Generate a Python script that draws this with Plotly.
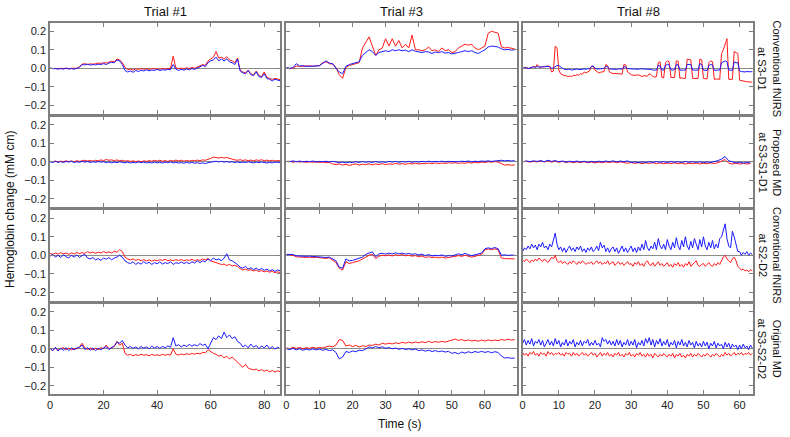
import numpy as np
import plotly.graph_objects as go
from plotly.subplots import make_subplots

# ---------------- data ----------------
columns = ["Trial #1", "Trial #3", "Trial #8"]
row_labels = ["Conventional fNIRS<br>at S3-D1", "Proposed MD<br>at S3-S1-D1",
              "Conventional fNIRS<br>at S2-D2", "Original MD<br>at S3-S2-D2"]

t_trial1 = np.arange(0, 87, 1.0)
t_trial3 = np.arange(0, 70, 1.0)
t_trial8 = np.arange(0, 64, 1.0)
t_trial8_fine = np.arange(0, 64, 0.5)

# Row 1: Conventional fNIRS at S3-D1
r1c1_red = [0.0,-0.002,0.0,-0.003,0.0,-0.002,0.001,-0.003,0.0,-0.002,0.0,
            0.008,0.022,0.025,0.02,0.024,0.022,0.025,0.028,0.026,0.03,0.028,0.032,0.038,0.035,0.05,0.045,0.03,
            0.005,-0.008,-0.005,-0.01,-0.004,-0.006,-0.002,-0.005,-0.003,-0.006,-0.002,-0.004,-0.003,-0.005,
            -0.001,-0.004,-0.002,0.0,0.065,0.002,-0.002,0.0,-0.003,0.002,-0.001,0.004,0.0,0.006,0.01,0.02,
            0.015,0.04,0.05,0.06,0.09,0.055,0.06,0.05,0.062,0.045,0.04,0.03,0.055,-0.01,-0.02,-0.025,-0.01,
            -0.03,-0.035,-0.015,-0.04,-0.045,-0.02,-0.05,-0.055,-0.06,-0.055,-0.06,-0.062]
r1c1_blue = [0.002,-0.003,-0.001,-0.004,-0.002,-0.005,0.0,-0.004,-0.002,-0.005,-0.001,
             0.005,0.02,0.018,0.022,0.017,0.02,0.018,0.022,0.02,0.025,0.02,0.028,0.032,0.03,0.045,0.04,0.02,
             -0.012,-0.02,-0.015,-0.022,-0.012,-0.018,-0.01,-0.015,-0.008,-0.014,-0.01,-0.012,-0.006,-0.012,
             -0.008,-0.01,-0.006,-0.008,0.02,-0.005,-0.012,-0.006,-0.01,-0.004,-0.008,-0.002,-0.006,0.0,0.005,
             0.015,0.01,0.03,0.04,0.045,0.06,0.04,0.05,0.04,0.05,0.035,0.03,0.02,0.05,-0.015,-0.025,-0.03,
             -0.012,-0.035,-0.04,-0.02,-0.045,-0.05,-0.03,-0.055,-0.06,-0.068,-0.06,-0.065,-0.068]
r1c2_red = [0.0,-0.002,0.001,0.012,0.01,0.012,0.01,0.013,0.011,0.012,0.015,0.03,0.035,0.025,0.022,0.005,
            -0.035,-0.055,0.005,0.015,0.02,0.025,0.03,0.11,0.14,0.17,0.12,0.07,0.1,0.11,0.16,0.12,0.16,0.12,
            0.15,0.11,0.13,0.11,0.18,0.1,0.1,0.095,0.1,0.115,0.095,0.1,0.09,0.11,0.095,0.1,0.085,0.09,0.11,
            0.12,0.13,0.125,0.13,0.11,0.1,0.11,0.12,0.19,0.2,0.195,0.19,0.115,0.11,0.112,0.108,0.105]
r1c2_blue = [0.005,0.0,0.003,0.025,0.012,0.014,0.01,0.012,0.01,0.012,0.013,0.025,0.04,0.028,0.025,0.0,
             -0.02,-0.03,0.01,0.02,0.025,0.03,0.035,0.07,0.085,0.1,0.09,0.07,0.085,0.09,0.095,0.09,0.1,0.095,
             0.1,0.095,0.098,0.09,0.1,0.092,0.09,0.085,0.09,0.088,0.08,0.088,0.085,0.09,0.082,0.085,0.078,0.08,
             0.085,0.09,0.095,0.09,0.095,0.085,0.08,0.09,0.1,0.115,0.12,0.118,0.115,0.105,0.1,0.102,0.098,0.1]
r1c3_red = [0.0,0.003,0.005,0.0,0.0,0.005,0.01,0.005,0.02,0.01,0.005,0.008,0.01,0.012,0.012,0.01,-0.02,
            -0.015,0.12,0.11,
            -0.01,-0.03,-0.035,-0.04,-0.04,-0.045,-0.042,-0.045,-0.038,-0.04,-0.035,-0.038,-0.03,-0.032,-0.02,
            -0.025,-0.02,-0.015,0.01,0.012,
            -0.01,-0.02,-0.025,-0.022,-0.02,-0.018,0.02,0.015,-0.02,-0.025,-0.03,-0.028,-0.028,-0.03,-0.03,
            -0.032,0.02,0.018,-0.02,-0.03,
            -0.035,-0.038,-0.04,-0.038,-0.035,-0.042,-0.045,-0.04,-0.04,-0.043,-0.03,-0.035,-0.045,-0.048,
            -0.045,0.03,0.035,-0.05,-0.052,0.03,
            0.04,0.035,-0.05,-0.052,-0.05,0.04,0.038,-0.055,-0.052,-0.055,-0.055,0.05,0.048,0.045,-0.055,
            -0.055,-0.053,-0.055,0.05,0.045,
            -0.055,-0.055,-0.058,0.03,0.04,0.035,-0.06,-0.058,-0.06,-0.06,0.08,0.1,0.13,0.16,-0.06,-0.062,
            -0.06,0.09,0.085,0.08,
            -0.065,-0.068,-0.07,-0.072,-0.073,-0.074,-0.076,-0.075]
r1c3_blue = [0.0,0.002,0.003,-0.002,0.0,0.005,0.008,0.004,0.01,0.006,0.005,0.008,0.008,0.01,0.01,0.008,0.0,
             0.002,0.01,0.015,
             0.015,0.005,0.0,-0.005,-0.008,-0.006,-0.005,-0.01,-0.008,-0.005,-0.004,-0.008,-0.006,-0.005,
             -0.004,-0.006,-0.002,-0.004,0.01,0.012,
             0.0,-0.004,-0.005,-0.003,-0.002,0.0,0.01,0.008,-0.004,-0.005,-0.002,-0.004,-0.006,-0.003,-0.003,
             -0.005,0.008,0.006,-0.002,-0.004,
             -0.005,-0.004,-0.004,-0.006,-0.006,-0.003,-0.003,-0.005,-0.005,-0.002,-0.002,-0.006,-0.01,-0.008,
             -0.01,0.015,0.012,-0.01,-0.01,0.015,
             0.02,0.018,-0.008,-0.01,-0.008,0.02,0.018,-0.01,-0.01,-0.012,-0.01,0.02,0.022,0.02,-0.01,-0.01,
             -0.012,-0.01,0.025,0.02,
             -0.01,-0.01,-0.012,0.015,0.02,0.018,-0.012,-0.01,-0.012,-0.01,0.03,0.035,0.04,0.035,-0.01,-0.01,
             -0.012,0.035,0.03,0.03,
             -0.015,-0.018,-0.02,-0.02,-0.018,-0.02,-0.019,-0.018]

# Row 2: Proposed MD at S3-S1-D1
r2c1_red = [0.002,0.0,0.004,-0.002,0.003,0.0,0.005,0.001,0.004,0.0,0.006,0.002,0.005,0.008,0.004,0.007,
            0.003,0.008,0.005,0.01,0.006,0.012,0.008,0.01,0.006,0.01,0.005,0.008,0.003,0.006,0.002,0.005,
            0.001,0.004,0.0,0.005,0.002,0.006,0.003,0.007,0.004,0.008,0.003,0.006,0.002,0.007,0.004,0.009,
            0.005,0.008,0.003,0.007,0.004,0.008,0.005,0.009,0.006,0.01,0.008,0.012,0.018,0.025,0.022,0.02,
            0.024,0.02,0.023,0.018,0.012,0.01,0.008,0.011,0.007,0.01,0.006,0.009,0.005,0.01,0.007,0.011,
            0.006,0.009,0.005,0.008,0.004,0.007,0.005]
r2c1_blue = [0.0,-0.004,0.002,-0.003,0.001,-0.005,0.002,-0.002,0.003,-0.004,0.0,-0.003,0.002,-0.002,0.001,
             -0.004,0.0,-0.003,0.001,-0.002,0.0,-0.005,-0.001,-0.006,-0.002,-0.005,0.0,-0.004,-0.006,-0.002,
             -0.007,-0.003,-0.006,-0.001,-0.005,-0.002,-0.006,-0.003,-0.007,-0.002,-0.006,-0.003,-0.007,-0.002,
             -0.005,-0.001,-0.006,-0.003,-0.007,-0.004,-0.008,-0.003,-0.007,-0.004,-0.008,-0.005,-0.009,-0.006,
             -0.01,-0.005,-0.003,0.0,0.003,-0.001,0.002,-0.002,0.001,-0.003,0.0,-0.004,-0.001,-0.005,-0.002,
             -0.004,0.0,-0.003,-0.006,-0.002,-0.005,-0.001,-0.004,-0.007,-0.003,-0.006,-0.002,-0.005,-0.004]
r2c2_red = [0.0,0.003,-0.003,0.002,-0.002,0.001,-0.004,0.0,-0.003,-0.001,-0.004,-0.002,-0.005,-0.003,
            -0.012,-0.015,-0.012,-0.018,-0.014,-0.02,-0.015,-0.012,-0.018,-0.013,-0.016,-0.011,-0.017,-0.012,
            -0.015,-0.01,-0.016,-0.011,-0.014,-0.009,-0.013,-0.01,-0.014,-0.009,-0.012,-0.008,-0.012,-0.009,
            -0.011,-0.007,-0.01,-0.006,-0.01,-0.007,-0.009,-0.005,-0.008,-0.005,-0.009,-0.006,-0.008,-0.004,
            -0.007,-0.003,-0.006,-0.002,-0.004,0.0,-0.003,0.001,-0.002,-0.012,-0.018,-0.016,-0.019,-0.017]
r2c2_blue = [0.003,0.0,0.005,0.0,0.004,-0.001,0.003,0.0,0.004,-0.001,0.002,0.0,0.003,-0.001,0.002,-0.003,
             -0.005,-0.002,-0.006,-0.002,-0.005,0.0,-0.004,0.001,-0.003,0.0,-0.004,0.001,-0.003,0.0,-0.004,
             0.002,-0.002,0.002,-0.003,0.001,-0.002,0.002,-0.003,0.001,-0.002,0.002,-0.001,0.003,-0.001,0.002,
             0.0,0.003,-0.001,0.002,0.001,0.004,0.0,0.003,0.001,0.004,0.0,0.003,0.001,0.004,0.002,0.005,0.002,
             0.004,0.006,0.008,0.005,0.007,0.004,0.006]
r2c3_red = [0.0,0.003,-0.002,0.002,-0.001,0.004,0.0,0.005,-0.002,0.003,-0.003,0.002,-0.004,0.0,-0.005,
            -0.001,-0.004,0.0,-0.005,-0.002,-0.006,-0.002,-0.005,-0.001,-0.004,0.0,-0.005,-0.001,-0.004,
            -0.008,-0.004,-0.009,-0.005,-0.01,-0.006,-0.009,-0.005,-0.01,-0.006,-0.011,-0.007,-0.01,-0.006,
            -0.011,-0.007,-0.012,-0.008,-0.011,-0.007,-0.012,-0.008,-0.011,-0.006,-0.01,-0.005,0.002,0.012,
            -0.008,-0.012,-0.008,-0.013,-0.009,-0.012,-0.01]
r2c3_blue = [0.0,0.004,0.001,0.005,0.002,0.006,0.0,0.008,0.002,0.006,0.0,0.004,-0.002,0.003,-0.001,0.004,
             -0.002,0.003,-0.003,0.002,-0.002,0.003,-0.001,0.004,0.0,0.005,-0.001,0.004,0.0,0.005,-0.004,
             -0.001,-0.005,-0.001,-0.004,0.0,-0.004,0.001,-0.003,0.0,-0.004,0.001,-0.003,0.0,-0.004,0.001,
             -0.003,0.0,-0.004,0.0,-0.005,-0.001,-0.004,0.0,0.006,0.015,0.028,0.005,-0.002,-0.006,-0.003,
             -0.007,-0.004,-0.006]

# Row 3: Conventional fNIRS at S2-D2
r3c1_red = [0.01,0.005,0.012,0.006,0.014,0.008,0.012,0.005,0.013,0.007,0.015,0.009,0.014,0.01,0.02,0.012,
            0.018,0.01,0.017,0.012,0.02,0.013,0.019,0.012,0.022,0.016,0.03,0.02,-0.01,-0.02,-0.025,-0.02,
            -0.028,-0.022,-0.03,-0.024,-0.03,-0.025,-0.032,-0.026,-0.03,-0.024,-0.028,-0.022,-0.03,-0.025,
            -0.03,-0.024,-0.028,-0.023,-0.03,-0.025,-0.028,-0.022,-0.03,-0.024,-0.028,-0.02,-0.025,-0.018,
            -0.03,-0.035,-0.04,-0.045,-0.05,-0.048,-0.055,-0.05,-0.058,-0.055,-0.06,-0.072,-0.08,-0.075,
            -0.082,-0.078,-0.085,-0.08,-0.088,-0.083,-0.09,-0.085,-0.092,-0.087,-0.095,-0.09,-0.094]
r3c1_blue = [-0.005,0.005,-0.01,0.0,-0.012,0.003,-0.008,-0.015,0.0,-0.01,0.002,-0.012,-0.002,0.005,-0.015,
             -0.02,-0.012,-0.025,-0.018,-0.028,-0.015,-0.022,-0.012,-0.025,-0.015,-0.01,0.0,-0.01,-0.03,-0.04,
             -0.045,-0.035,-0.05,-0.04,-0.048,-0.035,-0.045,-0.038,-0.05,-0.04,-0.046,-0.036,-0.048,-0.04,
             -0.045,-0.035,-0.05,-0.04,-0.045,-0.036,-0.045,-0.038,-0.046,-0.035,-0.042,-0.03,-0.04,-0.03,
             -0.035,-0.02,-0.03,-0.015,-0.025,-0.02,-0.03,-0.015,0.008,-0.025,-0.03,-0.04,-0.05,-0.065,-0.07,
             -0.06,-0.075,-0.068,-0.078,-0.07,-0.08,-0.072,-0.082,-0.075,-0.085,-0.078,-0.088,-0.08,-0.085]
r3c2_red = [0.003,0.002,0.0,-0.008,-0.01,-0.008,-0.012,-0.01,-0.013,-0.011,-0.014,-0.015,-0.017,-0.014,
            -0.025,-0.04,-0.07,-0.08,-0.035,-0.045,-0.04,-0.035,-0.03,-0.02,-0.008,0.0,0.005,-0.018,-0.005,
            0.0,-0.003,0.002,-0.004,0.003,-0.002,0.004,-0.003,0.0,-0.005,-0.002,-0.008,-0.004,-0.012,-0.008,
            -0.013,-0.01,-0.014,-0.01,-0.015,-0.012,-0.013,-0.006,-0.002,-0.006,0.0,-0.005,-0.01,-0.006,0.0,
            0.005,0.03,0.034,0.03,0.035,0.03,-0.015,-0.018,-0.02,-0.019,-0.02]
r3c2_blue = [0.005,0.003,0.004,-0.003,-0.005,-0.004,-0.006,-0.005,-0.007,-0.006,-0.008,-0.01,-0.012,-0.01,
             -0.018,-0.03,-0.065,-0.07,-0.02,-0.03,-0.028,-0.022,-0.018,-0.01,0.005,0.01,0.018,-0.008,0.008,
             0.01,0.006,0.012,0.007,0.013,0.008,0.012,0.006,0.01,0.005,0.008,0.002,0.006,-0.002,0.004,-0.004,
             0.0,-0.003,0.002,-0.006,-0.002,-0.004,0.002,0.008,0.002,0.01,0.003,-0.002,0.002,0.006,0.012,
             0.035,0.04,0.036,0.042,0.035,0.0,0.002,-0.001,0.001,0.0]
r3c3_red = [-0.025,-0.035,-0.02,-0.03,-0.04,-0.025,-0.035,-0.02,-0.03,-0.015,-0.025,-0.035,-0.02,-0.03,
            -0.04,-0.025,-0.01,-0.02,0.0,-0.03,
            -0.04,-0.03,-0.045,-0.035,-0.04,-0.05,-0.035,-0.045,-0.03,-0.04,-0.05,-0.035,-0.045,-0.03,-0.04,
            -0.05,-0.04,-0.045,-0.035,-0.05,
            -0.04,-0.03,-0.045,-0.035,-0.05,-0.04,-0.045,-0.03,-0.05,-0.04,-0.035,-0.055,-0.045,-0.035,-0.05,
            -0.04,-0.055,-0.045,-0.035,-0.05,
            -0.045,-0.06,-0.04,-0.05,-0.035,-0.055,-0.045,-0.06,-0.04,-0.03,-0.05,-0.055,-0.04,-0.06,-0.05,
            -0.035,-0.055,-0.045,-0.06,-0.05,
            -0.04,-0.06,-0.05,-0.065,-0.045,-0.055,-0.04,-0.06,-0.05,-0.065,-0.045,-0.055,-0.035,-0.06,-0.05,
            -0.045,-0.03,-0.055,-0.06,-0.05,
            -0.045,-0.06,-0.05,-0.04,-0.055,-0.06,-0.045,-0.055,-0.04,-0.05,-0.03,-0.01,0.0,-0.02,-0.03,-0.04,
            -0.02,-0.01,-0.03,-0.06,
            -0.07,-0.08,-0.075,-0.085,-0.08,-0.09,-0.078,-0.085]
r3c3_blue = [0.02,0.04,0.03,0.05,0.035,0.06,0.04,0.055,0.03,0.06,0.045,0.07,0.04,0.05,0.03,0.06,0.045,
             0.08,0.12,0.06,
             0.03,0.045,0.02,0.04,0.015,0.035,0.05,0.025,0.04,0.02,0.045,0.03,0.05,0.02,0.035,0.015,0.04,
             0.025,0.045,0.02,
             0.03,0.05,0.025,0.07,0.04,0.055,0.02,0.04,0.015,0.035,0.045,0.02,0.04,0.01,0.035,0.05,0.02,0.04,
             0.015,0.035,
             0.05,0.02,0.04,0.015,0.045,0.025,0.06,0.03,0.08,0.04,0.025,0.05,0.035,0.07,0.03,0.09,0.05,0.035,
             0.06,0.03,
             0.085,0.05,0.03,0.07,0.04,0.095,0.05,0.03,0.08,0.045,0.1,0.05,0.03,0.075,0.04,0.09,0.06,0.03,
             0.085,0.045,
             0.1,0.05,0.03,0.07,0.04,0.08,0.035,0.06,0.04,0.09,0.1,0.14,0.17,0.09,0.05,0.04,0.13,0.1,0.05,0.02,
             0.02,0.0,0.015,0.005,0.02,0.0,0.012,0.005]

# Row 4: Original MD at S3-S2-D2
r4c1_red = [0.0,-0.01,0.005,-0.008,0.0,0.006,-0.005,0.004,-0.006,0.002,0.0,0.01,0.03,0.005,-0.004,0.004,
            -0.006,0.002,-0.004,0.006,0.0,0.02,0.0,0.008,0.012,0.04,0.02,0.03,-0.025,-0.035,-0.03,-0.038,
            -0.032,-0.036,-0.03,-0.035,-0.032,-0.038,-0.031,-0.036,-0.033,-0.037,-0.03,-0.035,-0.031,-0.034,
            0.0,-0.03,-0.034,-0.028,-0.033,-0.027,-0.031,-0.025,-0.03,-0.024,-0.028,-0.02,-0.022,-0.005,
            -0.015,-0.025,-0.03,-0.04,-0.035,-0.05,-0.04,-0.055,-0.045,-0.06,-0.07,-0.085,-0.1,-0.085,-0.105,
            -0.11,-0.115,-0.11,-0.12,-0.113,-0.122,-0.115,-0.125,-0.118,-0.126,-0.12,-0.124]
r4c1_blue = [0.005,-0.01,0.008,-0.012,0.002,-0.008,0.006,-0.01,0.004,-0.006,0.003,0.008,0.02,-0.004,0.006,
             -0.008,0.004,-0.01,0.002,-0.006,0.005,0.012,-0.004,0.006,0.015,0.035,0.03,0.045,0.02,0.005,0.012,
             0.002,0.01,0.0,0.012,0.003,0.01,0.0,0.014,0.004,0.012,0.002,0.013,0.005,0.015,0.008,0.06,0.015,
             0.022,0.01,0.02,0.012,0.024,0.014,0.022,0.015,0.028,0.018,0.025,0.0,0.035,0.06,0.05,0.07,0.055,
             0.09,0.06,0.075,0.055,0.065,0.04,0.03,0.01,0.02,0.005,0.025,0.008,0.018,0.0,0.015,0.005,0.02,0.0,
             0.012,-0.002,0.008,0.0]
r4c2_red = [0.005,0.0,0.008,0.002,0.007,0.0,0.006,0.002,0.008,0.003,0.007,0.004,0.01,0.015,0.01,0.02,0.05,
            0.045,0.015,0.02,0.012,0.018,0.01,0.016,0.012,0.02,0.018,0.025,0.02,0.03,0.025,0.03,0.026,0.032,
            0.028,0.035,0.03,0.036,0.031,0.037,0.032,0.038,0.033,0.04,0.034,0.039,0.035,0.04,0.036,0.042,
            0.048,0.052,0.045,0.05,0.043,0.048,0.042,0.046,0.041,0.047,0.042,0.048,0.043,0.047,0.044,0.05,
            0.046,0.052,0.047,0.05]
r4c2_blue = [0.0,-0.005,0.002,-0.006,0.0,-0.008,-0.002,-0.007,0.0,-0.006,-0.002,-0.008,-0.004,-0.01,-0.006,
             -0.02,-0.055,-0.045,-0.015,-0.02,-0.012,-0.016,-0.008,-0.01,-0.002,0.01,0.005,0.012,0.006,0.01,
             0.003,0.006,0.0,0.004,-0.003,0.002,-0.005,0.0,-0.006,-0.002,-0.01,-0.006,-0.013,-0.008,-0.015,
             -0.01,-0.016,-0.012,-0.018,-0.014,-0.025,-0.02,-0.028,-0.018,-0.024,-0.016,-0.022,-0.015,-0.02,
             -0.014,-0.02,-0.015,-0.022,-0.016,-0.02,-0.04,-0.05,-0.048,-0.052,-0.05]
r4c3_red = [-0.02,-0.035,-0.025,-0.04,-0.02,-0.03,-0.015,-0.035,-0.025,-0.04,-0.02,-0.03,-0.025,-0.04,
            -0.015,-0.03,-0.02,-0.035,-0.025,-0.03,
            -0.02,-0.035,-0.025,-0.04,-0.02,-0.03,-0.025,-0.04,-0.02,-0.035,-0.025,-0.04,-0.03,-0.02,-0.035,
            -0.025,-0.04,-0.03,-0.02,-0.035,
            -0.025,-0.045,-0.03,-0.02,-0.04,-0.025,-0.035,-0.02,-0.04,-0.03,-0.045,-0.025,-0.035,-0.02,-0.04,
            -0.03,-0.045,-0.025,-0.035,-0.02,
            -0.04,-0.03,-0.045,-0.025,-0.035,-0.02,-0.04,-0.03,-0.045,-0.025,-0.04,-0.03,-0.05,-0.025,-0.035,
            -0.045,-0.03,-0.04,-0.025,-0.035,
            -0.045,-0.03,-0.04,-0.025,-0.05,-0.03,-0.04,-0.025,-0.045,-0.035,-0.05,-0.03,-0.04,-0.025,-0.045,
            -0.03,-0.04,-0.025,-0.035,-0.045,
            -0.03,-0.04,-0.025,-0.035,-0.045,-0.03,-0.04,-0.025,-0.035,-0.045,-0.03,-0.04,-0.02,-0.035,-0.025,
            -0.04,-0.03,-0.02,-0.035,-0.025,
            -0.03,-0.02,-0.035,-0.025,-0.03,-0.02,-0.035,-0.025]
r4c3_blue = [0.03,0.05,0.02,0.045,0.025,0.055,0.015,0.04,0.03,0.05,0.02,0.045,0.01,0.035,0.05,0.02,0.04,
             0.015,0.055,0.025,
             0.045,0.01,0.035,0.02,0.05,0.015,0.04,0.025,0.05,0.01,0.035,0.02,0.045,0.015,0.04,0.03,0.05,
             0.015,0.035,0.02,
             0.045,0.02,0.03,0.01,0.06,0.04,0.05,0.025,0.045,0.02,0.04,0.015,0.05,0.02,0.045,0.01,0.035,0.02,
             0.05,0.015,
             0.04,0.02,0.05,0.005,0.035,0.02,0.045,0.015,0.055,0.03,0.06,0.02,0.05,0.01,0.045,0.025,0.055,
             0.015,0.04,0.02,
             0.05,0.01,0.035,0.02,0.045,0.005,0.04,0.02,0.05,0.015,0.035,0.01,0.045,0.02,0.035,0.005,0.04,
             0.015,0.03,0.01,
             0.04,0.015,0.035,0.0,0.03,0.015,0.04,0.005,0.03,0.015,0.025,0.0,0.035,0.01,0.03,0.0,0.025,0.01,
             0.02,-0.005,
             0.02,0.0,0.025,0.005,0.015,-0.005,0.02,0.005]

panels = [
    [(t_trial1, r1c1_red, r1c1_blue), (t_trial3, r1c2_red, r1c2_blue), (t_trial8_fine, r1c3_red, r1c3_blue)],
    [(t_trial1, r2c1_red, r2c1_blue), (t_trial3, r2c2_red, r2c2_blue), (t_trial8, r2c3_red, r2c3_blue)],
    [(t_trial1, r3c1_red, r3c1_blue), (t_trial3, r3c2_red, r3c2_blue), (t_trial8_fine, r3c3_red, r3c3_blue)],
    [(t_trial1, r4c1_red, r4c1_blue), (t_trial3, r4c2_red, r4c2_blue), (t_trial8_fine, r4c3_red, r4c3_blue)],
]
x_ranges = [[0, 86], [0, 69.6], [0, 63.7]]
x_ticks = [[0, 20, 40, 60, 80], [0, 10, 20, 30, 40, 50, 60], [0, 10, 20, 30, 40, 50, 60]]
y_ticks = [-0.2, -0.1, 0.0, 0.1, 0.2]

RED = "#ff1a1a"
BLUE = "#1a1aff"
FRAME = "#7f7f7f"
FONT = "Liberation Sans, Arial, sans-serif"

W, H = 790, 437
ML, MR, MT, MB = 50, 37, 23, 43
PW, PH = W - ML - MR, H - MT - MB

fig = make_subplots(rows=4, cols=3, horizontal_spacing=6 / PW, vertical_spacing=3 / PH)

for r in range(4):
    for c in range(3):
        t, red, blue = panels[r][c]
        fig.add_trace(go.Scatter(x=t, y=red, mode="lines", line=dict(color=RED, width=1),
                                 showlegend=False, hoverinfo="skip"), row=r + 1, col=c + 1)
        fig.add_trace(go.Scatter(x=t, y=blue, mode="lines", line=dict(color=BLUE, width=1),
                                 showlegend=False, hoverinfo="skip"), row=r + 1, col=c + 1)
        fig.update_xaxes(range=x_ranges[c], tickvals=x_ticks[c], showticklabels=(r == 3),
                         ticks="inside", ticklen=4, tickcolor=FRAME, showline=True, linecolor=FRAME,
                         linewidth=1.5, mirror="ticks", showgrid=False, zeroline=False,
                         tickfont=dict(size=11, color="#222", family=FONT), row=r + 1, col=c + 1)
        fig.update_yaxes(range=[-0.245, 0.245], tickvals=y_ticks, tickformat=".1f",
                         showticklabels=(c == 0), ticks="inside", ticklen=4, tickcolor=FRAME,
                         showline=True, linecolor=FRAME, linewidth=1.5, mirror="ticks",
                         showgrid=False, zeroline=True, zerolinecolor="#8c8c8c", zerolinewidth=1,
                         tickfont=dict(size=11, color="#222", family=FONT), row=r + 1, col=c + 1)

annotations = []
col_centers = [(230 / 2) / PW, (236 + 231 / 2) / PW, (473 + 230 / 2) / PW]
for c, name in enumerate(columns):
    annotations.append(dict(text=name, x=col_centers[c], y=1 + 12 / PH, xref="paper", yref="paper",
                            showarrow=False, font=dict(size=13, color="#111", family=FONT),
                            xanchor="center", yanchor="middle"))
row_centers = [1 - (91 / 2) / PH, 1 - (94 + 90 / 2) / PH, 1 - (187 + 90 / 2) / PH, 1 - (280 + 91 / 2) / PH]
for r, name in enumerate(row_labels):
    annotations.append(dict(text=name, x=1 + (770 - 753) / PW, y=row_centers[r], xref="paper",
                            yref="paper", showarrow=False, textangle=90,
                            font=dict(size=11, color="#111", family=FONT),
                            xanchor="center", yanchor="middle"))
annotations.append(dict(text="Hemoglobin change (mM cm)", x=-(40) / PW, y=(394 - 210) / PH,
                        xref="paper", yref="paper", showarrow=False, textangle=-90,
                        font=dict(size=12, color="#111", family=FONT), xanchor="center", yanchor="middle"))
annotations.append(dict(text="Time (s)", x=(400 - ML) / PW, y=-(424 - 394) / PH,
                        xref="paper", yref="paper", showarrow=False,
                        font=dict(size=12, color="#111", family=FONT), xanchor="center", yanchor="middle"))

fig.update_layout(width=W, height=H, margin=dict(l=ML, r=MR, t=MT, b=MB),
                  plot_bgcolor="white", paper_bgcolor="white", annotations=annotations,
                  font=dict(family=FONT))

fig.write_html("out.html", config={"displayModeBar": False},
               post_script="document.body.style.margin='0';document.body.style.overflow='hidden';")
